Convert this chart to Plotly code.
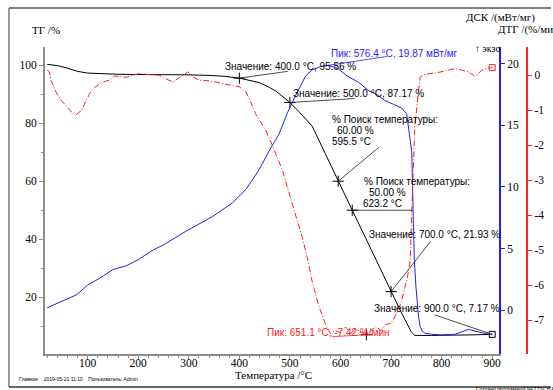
import plotly.graph_objects as go

W, H = 553, 390

# --- TG curve (mass, %) ---
tg_temp = [20, 40, 60, 80, 100, 130, 160, 200, 250, 300, 340, 370, 400, 420, 440,
           460, 472, 480, 500, 520, 544, 570, 595.5, 623.2, 650, 675, 700, 720,
           740, 747, 780, 820, 860, 900]
tg_val = [100.3, 99.9, 99.0, 97.9, 97.3, 97.0, 96.9, 96.8, 96.8, 96.7, 96.5, 96.2,
          95.56, 94.9, 94.0, 92.3, 91.1, 90.0, 87.17, 83.6, 79.0, 69.5, 60.0, 50.0,
          40.3, 31.0, 21.93, 14.8, 8.0, 6.8, 6.8, 6.8, 7.0, 7.17]

# --- DSC curve (mW/mg) ---
dsc_temp = [20, 40, 58, 78, 100, 124, 150, 176, 200, 230, 250, 294, 347, 386, 413,
            439, 460, 478, 495, 511, 531, 544, 560, 576.4, 595, 613, 635, 656, 672,
            688, 705, 721, 731, 734, 738, 741, 744, 746, 749, 751, 754, 757.5, 762,
            767, 780, 800, 826, 840, 853, 866, 879, 890, 900]
dsc_val = [0.2, 0.55, 0.9, 1.25, 2.05, 2.6, 3.3, 3.6, 4.1, 4.9, 5.3, 6.4, 7.6, 8.7,
           9.8, 11.4, 13.0, 14.25, 16.0, 17.4, 19.0, 19.5, 19.75, 19.87, 19.6, 19.0,
           18.5, 17.8, 17.5, 17.0, 16.7, 16.4, 15.9, 14.9, 14.0, 12.8, 7.3, 4.1, 2.0,
           0.84, -0.4, -1.33, -1.7, -1.87, -1.95, -2.0, -1.95, -1.75, -1.55, -1.7,
           -1.8, -1.9, -2.0]

# --- DTG curve (%/min) ---
dtg_temp = [20, 24, 28, 38, 48, 58, 68, 76, 82, 88, 96, 104, 114, 124, 135, 143, 153,
            165, 176, 190, 202, 215, 230, 242, 255, 268, 280, 290, 298, 310, 321, 335,
            354, 370, 385, 400, 413, 422, 432, 442, 452, 465, 478, 485, 495, 505, 515,
            524, 534, 544, 557, 570, 580, 590, 600, 610, 620, 630, 640, 651.1, 660,
            670, 680, 690, 700, 708, 715, 721, 726, 731, 735, 738, 741, 744, 747, 751,
            754, 757.5, 765, 774, 787, 800, 813, 826, 840, 853, 866, 872, 879, 890, 900]
dtg_val = [0.15, 0.1, -0.15, -0.5, -0.72, -0.9, -1.05, -1.14, -1.08, -1.0, -0.75,
           -0.52, -0.35, -0.24, -0.17, -0.14, -0.02, -0.03, -0.06, 0.0, 0.05, 0.03,
           0.02, 0.0, -0.1, -0.19, -0.08, 0.03, 0.1, -0.06, -0.14, -0.15, -0.19, -0.25,
           -0.28, -0.33, -0.48, -0.75, -1.1, -1.35, -1.57, -2.0, -2.43, -2.71, -3.2,
           -3.67, -4.15, -4.62, -5.19, -5.9, -6.6, -7.1, -7.38, -7.3, -7.36, -7.2,
           -7.38, -7.25, -7.34, -7.42, -7.3, -7.18, -7.3, -7.12, -7.1, -6.9, -6.7,
           -6.43, -6.15, -5.86, -5.55, -5.29, -3.86, -2.71, -1.48, -0.9, -0.43, -0.05,
           0.02, 0.05, 0.06, 0.1, 0.15, 0.19, 0.15, 0.1, -0.03, 0.05, 0.14, 0.2, 0.22]

# Marked TG values (temperature, mass %)
tg_mark_temp = [400.0, 500.0, 595.5, 623.2, 700.0]
tg_mark_val = [95.56, 87.17, 60.00, 50.00, 21.93]
tg_end = (900.0, 7.17)
dsc_peak = (576.4, 19.87)
dtg_peak = (651.1, -7.42)

# axis ticks
x_ticks = [100, 200, 300, 400, 500, 600, 700, 800, 900]
tg_ticks = [20, 40, 60, 80, 100]
dsc_ticks = [0, 5, 10, 15, 20]
dtg_ticks = [0, -1, -2, -3, -4, -5, -6, -7]

SERIF = "Liberation Serif"
SANS = "Liberation Sans"


def px(x):
    return x / W


def py(y):
    return 1 - y / H


fig = go.Figure()

fig.add_trace(go.Scatter(x=tg_temp, y=tg_val, mode="lines",
                         line=dict(color="black", width=1), yaxis="y"))
fig.add_trace(go.Scatter(x=dsc_temp, y=dsc_val, mode="lines",
                         line=dict(color="#1f1fff", width=1), yaxis="y2"))
fig.add_trace(go.Scatter(x=dtg_temp, y=dtg_val, mode="lines",
                         line=dict(color="#ff2020", width=1, dash="6px,2px,1px,2px"),
                         yaxis="y3"))

# crosses on the TG points and on the DTG peak
fig.add_trace(go.Scatter(x=tg_mark_temp, y=tg_mark_val, mode="markers", yaxis="y",
                         marker=dict(symbol="cross-thin", size=8,
                                     line=dict(color="black", width=1))))
fig.add_trace(go.Scatter(x=[dtg_peak[0]], y=[dtg_peak[1]], mode="markers", yaxis="y3",
                         marker=dict(symbol="cross-thin", size=8,
                                     line=dict(color="black", width=1))))
# end-of-curve boxes
fig.add_trace(go.Scatter(x=[tg_end[0]], y=[tg_end[1]], mode="markers", yaxis="y",
                         marker=dict(symbol="square-open", size=6, color="black",
                                     line=dict(width=1))))
fig.add_trace(go.Scatter(x=[dtg_temp[-1]], y=[dtg_val[-1]], mode="markers", yaxis="y3",
                         marker=dict(symbol="square-open", size=6, color="#ff2020",
                                     line=dict(width=1))))

annotations = []


def text(x, y, s, size=10, color="black", family=SANS, anchor="left"):
    annotations.append(dict(x=px(x), y=py(y), xref="paper", yref="paper", text=s,
                            showarrow=False, xanchor=anchor, yanchor="middle",
                            font=dict(family=family, size=size, color=color)))


def leader(x, y, yref, ax, ay, color="#202020"):
    annotations.append(dict(x=x, y=y, xref="x", yref=yref, text=" ",
                            font=dict(size=1), showarrow=True, arrowhead=0,
                            arrowwidth=0.8, arrowcolor=color, ax=ax, ay=ay,
                            standoff=0, startstandoff=0))


# value labels
text(224, 66.7, "Значение: 400.0 °C, 95.56 %")
leader(tg_mark_temp[0], tg_mark_val[0], "y", 50, -7)
text(291.7, 93.3, "Значение: 500.0 °C, 87.17 %")
leader(tg_mark_temp[1], tg_mark_val[1], "y", 66, -4)
text(330.7, 119.3, "% Поиск температуры:")
text(336, 130.5, "60.00 %")
text(330.7, 141.7, "595.5 °C")
leader(tg_mark_temp[2], tg_mark_val[2], "y", 42, -35)
text(363.3, 181, "% Поиск температуры:")
text(368.3, 192.2, "50.00 %")
text(362.7, 203.4, "623.2 °C")
leader(tg_mark_temp[3], tg_mark_val[3], "y", 62, 0)
text(368.3, 234.3, "Значение: 700.0 °C, 21.93 %")
leader(tg_mark_temp[4], tg_mark_val[4], "y", 41, -52)
text(373.3, 308.7, "Значение: 900.0 °C, 7.17 %")
leader(tg_end[0], tg_end[1], "y", -59, -20)
text(330, 54, "Пик: 576.4 °C, 19.87 мВт/мг", color="#1f1fff")
leader(dsc_peak[0], dsc_peak[1], "y2", 60, -9, color="#1f1fff")
text(266, 332.7, "Пик: 651.1 °C, -7.42 %/мин", color="#ff2020")
leader(dtg_peak[0], dtg_peak[1], "y3", -36, 2, color="#ff2020")

# axis titles
text(30, 30, "ТГ /%", size=11, family=SERIF)
text(466, 17.3, "ДСК /(мВт/мг)", size=11, family=SERIF)
text(497.7, 30, "ДТГ /(%/мин", size=11, family=SERIF)
text(475, 48.5, "↑ экзо", size=10, family=SERIF)
text(274, 375, "Температура /°C", size=11, family=SERIF, anchor="center")

# footer
text(16.7, 379, "Главное&nbsp;&nbsp;&nbsp;&nbsp;2019-05-21 11:10&nbsp;&nbsp;&nbsp;&nbsp;Пользователь: Admin",
     size=5)
text(476, 388.5, "Создано программой NETZSCH Proteus", size=5)

# outer frame
frame = [
    dict(type="line", xref="paper", yref="paper", x0=px(9), y0=py(8), x1=px(553),
         y1=py(8), line=dict(color="#555555", width=1.5)),
    dict(type="line", xref="paper", yref="paper", x0=px(9), y0=py(8), x1=px(9),
         y1=py(387), line=dict(color="#777777", width=1.5)),
    dict(type="line", xref="paper", yref="paper", x0=px(9), y0=py(387), x1=px(553),
         y1=py(387), line=dict(color="#333333", width=1.5)),
]

tickfont = dict(family=SERIF, size=11.5, color="black")

fig.update_layout(
    width=W, height=H,
    margin=dict(l=0, r=0, t=0, b=0),
    paper_bgcolor="white", plot_bgcolor="white",
    showlegend=False,
    annotations=annotations,
    shapes=frame,
    xaxis=dict(domain=[px(45), px(501)], range=[15.3, 913.8], tickvals=x_ticks,
               ticktext=[str(v) for v in x_ticks], ticklabelstandoff=-7,
               showgrid=False, zeroline=False, showline=True, linecolor="#8c8c8c",
               linewidth=1.5, ticks="outside", ticklen=4, tickcolor="#8c8c8c",
               tickfont=tickfont,
               minor=dict(dtick=20, ticks="outside", ticklen=2, tickcolor="#8c8c8c")),
    yaxis=dict(domain=[py(354), py(47)], range=[0.4, 106.3], tickvals=tg_ticks,
               ticktext=[str(v) for v in tg_ticks],
               showgrid=False, zeroline=False, showline=True, linecolor="#8c8c8c",
               linewidth=1.5, ticks="outside", ticklen=4, tickcolor="#8c8c8c",
               tickfont=tickfont,
               minor=dict(dtick=10, ticks="outside", ticklen=2, tickcolor="#8c8c8c")),
    yaxis2=dict(overlaying="y", side="right", anchor="x", range=[-3.55, 21.35],
                tickvals=dsc_ticks, ticktext=[str(v) for v in dsc_ticks],
                showgrid=False, zeroline=False, showline=True,
                linecolor="#1f1fff", linewidth=1.5, ticks="outside", ticklen=4,
                tickcolor="#1f1fff", tickfont=tickfont),
    yaxis3=dict(overlaying="y", side="right", anchor="free", position=529.3 / W,
                range=[-7.97, 0.81], tickvals=dtg_ticks,
                ticktext=[str(v) for v in dtg_ticks], showgrid=False, zeroline=False,
                showline=True, linecolor="#ff2020", linewidth=1.5, ticks="outside",
                ticklen=4, tickcolor="#ff2020", tickfont=tickfont),
)

fig.write_html("out.html")
